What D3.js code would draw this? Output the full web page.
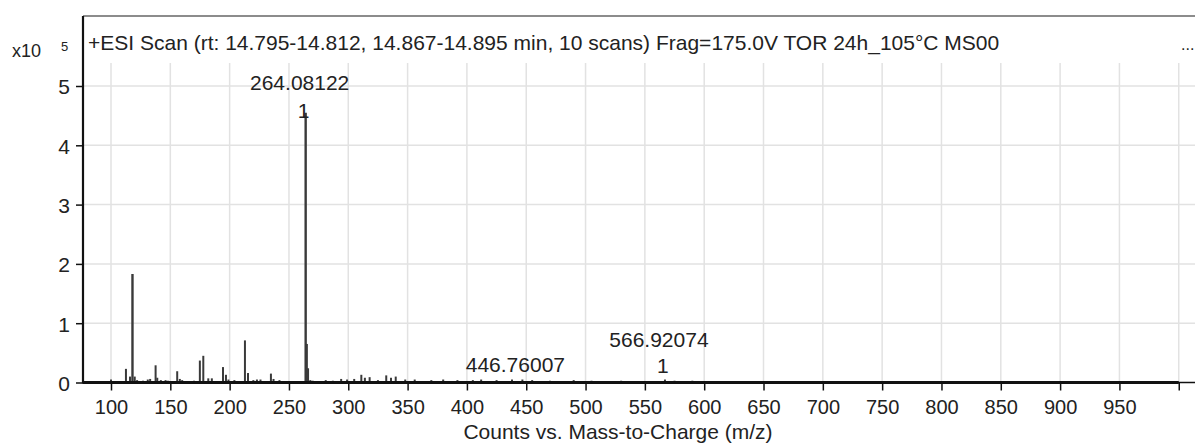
<!DOCTYPE html>
<html><head><meta charset="utf-8">
<script src="https://cdn.jsdelivr.net/npm/d3@7"></script>
<style>body{margin:0;background:#fff}svg text{font-family:"Liberation Sans",Arial,sans-serif;fill:#222}</style>
</head><body>
<svg id="c" width="1195" height="445"></svg>
<script>
// ---- data (m/z, counts x10^5) ----
const mz = [100.0,104,112.6,116,118.1,120,122,127,131,133,137.6,139,142,146,148,155.8,158,160,170,174.9,177.8,182,185,194.4,196.9,199,204,212.9,215.5,220,223,226,234.8,237,242,264.08,265.1,266.1,268,270,281,287,294,299,305,311,314,318,325,332,336,340,348,356,370,380,392,405,412,425,438,446.76,455,470,490,505,530,566.92,575,590,620,660,700,760,830,900,945,985];
const counts = [0.05,0.02,0.23,0.10,1.83,0.10,0.04,0.03,0.05,0.06,0.29,0.08,0.04,0.04,0.03,0.19,0.06,0.04,0.03,0.37,0.45,0.07,0.07,0.26,0.13,0.05,0.04,0.71,0.16,0.04,0.05,0.05,0.15,0.06,0.04,4.55,0.65,0.24,0.04,0.03,0.04,0.03,0.06,0.05,0.06,0.13,0.08,0.09,0.04,0.12,0.08,0.10,0.05,0.05,0.04,0.05,0.04,0.04,0.05,0.04,0.05,0.05,0.04,0.03,0.04,0.03,0.03,0.05,0.03,0.03,0.02,0.02,0.02,0.02,0.02,0.02,0.02,0.02];
const xTicks = [100,150,200,250,300,350,400,450,500,550,600,650,700,750,800,850,900,950,1000];
const xTickLabels = ["100","150","200","250","300","350","400","450","500","550","600","650","700","750","800","850","900","950",""];
const yTicks = [0,1,2,3,4,5];
const peakLabels = [
  {mz:264.08122, v:4.55, text:"264.08122", sub:"1"},
  {mz:446.76007, v:0.05, text:"446.76007", sub:null},
  {mz:566.92074, v:0.05, text:"566.92074", sub:"1"}
];
const title = "+ESI Scan (rt: 14.795-14.812, 14.867-14.895 min, 10 scans) Frag=175.0V TOR 24h_105°C MS00";
const xTitle = "Counts vs. Mass-to-Charge (m/z)";
const dataEnd = 1000;

// ---- layout ----
const svg = d3.select("#c");
const mLeft = 83, mRight = 1195, mTop = 16, mBottom = 382.5, gridTop = 63;
const FS = 21;
const x = d3.scaleLinear().domain([76.4, 1013.7]).range([mLeft, mRight]);
const y = d3.scaleLinear().domain([0, 5]).range([mBottom, 86]);

// gridlines
svg.append("g").selectAll("line").data(xTicks).join("line")
  .attr("x1", d => x(d)).attr("x2", d => x(d)).attr("y1", gridTop).attr("y2", mBottom)
  .attr("stroke", "#e2e2e2").attr("stroke-width", 1.5);
svg.append("g").selectAll("line").data(yTicks.filter(d => d > 0)).join("line")
  .attr("x1", mLeft).attr("x2", mRight).attr("y1", d => y(d)).attr("y2", d => y(d))
  .attr("stroke", "#e2e2e2").attr("stroke-width", 1.5);

// top border
svg.append("line").attr("x1", mLeft).attr("x2", mRight).attr("y1", mTop).attr("y2", mTop)
  .attr("stroke", "#666").attr("stroke-width", 1.3);

// x axis
const xAxis = d3.axisBottom(x).tickValues(xTicks).tickFormat((d, i) => xTickLabels[i]).tickSize(8).tickPadding(9);
const gx = svg.append("g").attr("transform", `translate(0,${mBottom})`).call(xAxis);
gx.select(".domain").attr("stroke", "#111").attr("stroke-width", 1.3).attr("d", `M${mLeft},0H${mRight}`);
gx.selectAll(".tick line").attr("stroke", "#111").attr("stroke-width", 1.5);
gx.selectAll(".tick text").attr("font-size", 20).attr("fill", "#222").style("font-family", "Liberation Sans, Arial, sans-serif");

// y axis
const yAxis = d3.axisLeft(y).tickValues(yTicks).tickFormat(d3.format("d")).tickSize(7).tickPadding(6);
const gy = svg.append("g").attr("transform", `translate(${mLeft},0)`).call(yAxis);
gy.select(".domain").attr("stroke", "#111").attr("stroke-width", 2.2).attr("d", `M0,${mTop}V${mBottom + 1}`);
gy.selectAll(".tick line").attr("stroke", "#111").attr("stroke-width", 1.5);
gy.selectAll(".tick text").attr("font-size", FS).attr("fill", "#222").attr("dy", "0.38em").style("font-family", "Liberation Sans, Arial, sans-serif");

// peaks
svg.append("g").selectAll("line").data(mz).join("line")
  .attr("x1", d => x(d)).attr("x2", d => x(d))
  .attr("y1", y(0)).attr("y2", (d, i) => y(counts[i]))
  .attr("stroke", "#3a3a3a").attr("stroke-width", (d, i) => counts[i] > 1 ? 2.4 : 2);

// thick spectrum baseline
svg.append("line").attr("x1", mLeft).attr("x2", x(dataEnd)).attr("y1", y(0)).attr("y2", y(0))
  .attr("stroke", "#111").attr("stroke-width", 3.2);

// peak labels
const pl = svg.append("g");
peakLabels.forEach(p => {
  const px = x(p.mz);
  if (p.sub) {
    pl.append("text").attr("x", px - 6).attr("y", p.mz < 300 ? y(p.v) - 23 : y(p.v) - 33)
      .attr("text-anchor", "middle").attr("font-size", FS).text(p.text);
    pl.append("text").attr("x", px - 2).attr("y", p.mz < 300 ? y(p.v) + 5 : y(p.v) - 7)
      .attr("text-anchor", "middle").attr("font-size", FS).text(p.sub);
  } else {
    pl.append("text").attr("x", px - 7).attr("y", y(p.v) - 8)
      .attr("text-anchor", "middle").attr("font-size", FS).text(p.text);
  }
});

// title & labels
svg.append("text").attr("x", 88).attr("y", 50).attr("font-size", FS).text(title);
svg.append("text").attr("x", 1181).attr("y", 50).attr("font-size", 16).text("...");
svg.append("text").attr("x", 12).attr("y", 57).attr("font-size", 18).text("x10");
svg.append("text").attr("x", 61).attr("y", 51).attr("font-size", 13).text("5");
svg.append("text").attr("x", 618).attr("y", 439).attr("text-anchor", "middle").attr("font-size", FS).text(xTitle);
</script>
</body></html>
